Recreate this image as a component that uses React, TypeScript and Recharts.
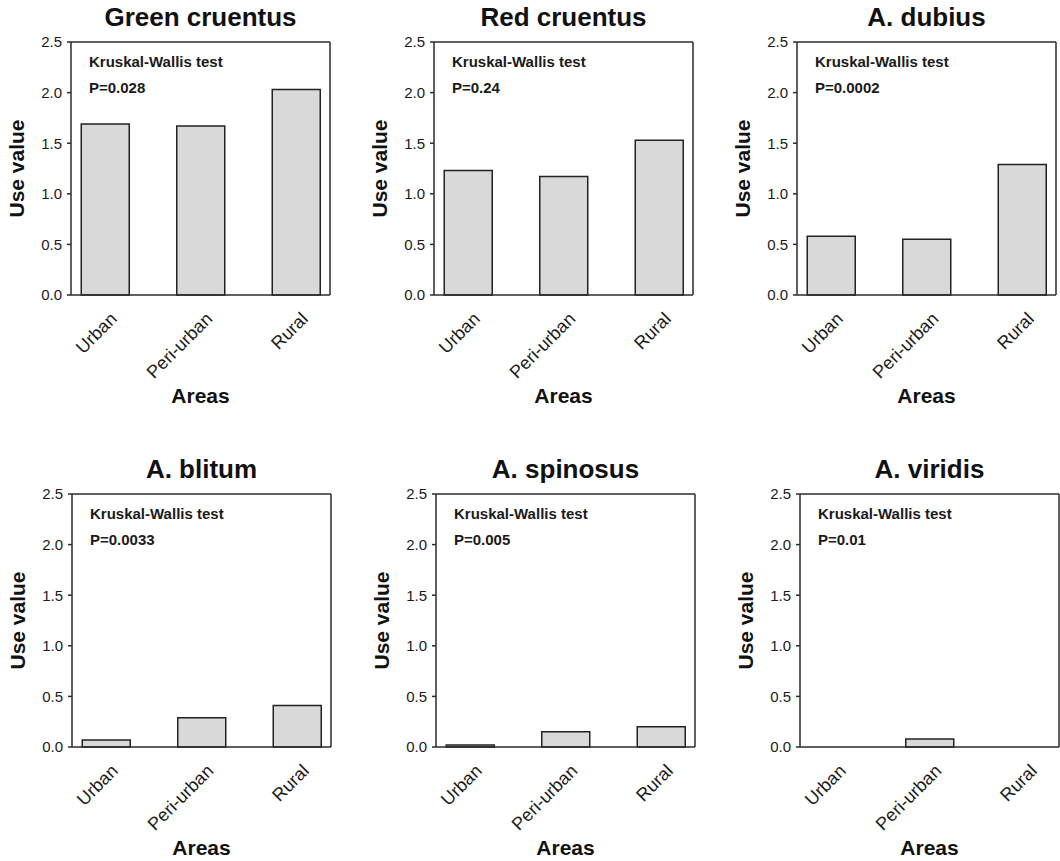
import React from 'react';
import { BarChart, Bar, XAxis, YAxis, ReferenceLine } from 'recharts';

const categories = ['Urban', 'Peri-urban', 'Rural'];
const greenCruentus = [1.69, 1.67, 2.03];
const redCruentus = [1.23, 1.17, 1.53];
const aDubius = [0.58, 0.55, 1.29];
const aBlitum = [0.07, 0.29, 0.41];
const aSpinosus = [0.02, 0.15, 0.2];
const aViridis = [0, 0.08, 0];
const panelTitles = ['Green cruentus', 'Red cruentus', 'A. dubius', 'A. blitum', 'A. spinosus', 'A. viridis'];
const pValues = ['P=0.028', 'P=0.24', 'P=0.0002', 'P=0.0033', 'P=0.005', 'P=0.01'];
const yTicks = [0, 0.5, 1.0, 1.5, 2.0, 2.5];
const testLabel = 'Kruskal-Wallis test';
const yLabel = 'Use value';
const xLabel = 'Areas';

const FONT = 'Arial, "Liberation Sans", Helvetica, sans-serif';
const AXIS = '#2b2b2b';
const CH_W = 332;
const CH_H = 407;
const M_TOP = 42;
const Y_W = 71;
const PLOT_W = 259;
const X_DOMAIN: [number, number] = [-0.356, 2.356];

const XTick = (props: any) => {
  const { x, y, payload } = props;
  const ax = x + 13;
  const ay = y + 17;
  return (
    <text x={ax} y={ay} transform={`rotate(-45, ${ax}, ${ay})`} textAnchor="end"
      fontFamily={FONT} fontSize={18} fill="#1a1a1a">
      {categories[payload.value]}
    </text>
  );
};

const YLabelC = (props: any) => {
  const vb = props.viewBox || { x: 0, y: M_TOP, width: Y_W, height: 253 };
  const cx = vb.x + 16;
  const cy = vb.y + vb.height / 2;
  return (
    <text x={cx} y={cy} transform={`rotate(-90, ${cx}, ${cy})`} textAnchor="middle"
      dominantBaseline="central" fontFamily={FONT} fontWeight="bold" fontSize={21} fill="#111">
      {yLabel}
    </text>
  );
};

const XLabelC = (props: any) => {
  const vb = props.viewBox || { x: Y_W, y: 295, width: PLOT_W, height: 112 };
  return (
    <text x={vb.x + vb.width / 2} y={vb.y + 108} textAnchor="middle"
      fontFamily={FONT} fontWeight="bold" fontSize={21} fill="#111">
      {xLabel}
    </text>
  );
};

type PanelProps = { title: string; values: number[]; p: string; left: number; top: number };

const Panel = ({ title, values, p, left, top }: PanelProps) => {
  const data = categories.map((c, i) => ({ pos: i, name: c, value: values[i] }));
  return (
    <div style={{ position: 'absolute', left, top, width: CH_W, height: CH_H }}>
      <BarChart width={CH_W} height={CH_H} data={data}
        margin={{ top: M_TOP, right: 2, left: 0, bottom: 0 }}>
        <XAxis dataKey="pos" type="number" domain={X_DOMAIN} ticks={[0, 1, 2]}
          allowDataOverflow tick={<XTick />} tickLine={false} height={112}
          axisLine={{ stroke: AXIS, strokeWidth: 1.5 }} label={<XLabelC />} />
        <YAxis domain={[0, 2.5]} ticks={yTicks} width={Y_W} tickSize={4} tickMargin={5}
          tickFormatter={(v: number) => v.toFixed(1)}
          tick={{ fontFamily: FONT, fontSize: 15, fill: '#1a1a1a' }}
          tickLine={{ stroke: AXIS, strokeWidth: 1.5 }}
          axisLine={{ stroke: AXIS, strokeWidth: 1.5 }} label={<YLabelC />} />
        <ReferenceLine y={2.5} stroke={AXIS} strokeWidth={1.5} />
        <ReferenceLine x={X_DOMAIN[1]} stroke={AXIS} strokeWidth={1.5} />
        <Bar dataKey="value" barSize={48} fill="#d9d9d9" stroke="#222" strokeWidth={1.5}
          isAnimationActive={false} />
      </BarChart>
      <svg width={CH_W} height={CH_H} style={{ position: 'absolute', left: 0, top: 0, pointerEvents: 'none' }}>
        <text x={Y_W + PLOT_W / 2} y={26} textAnchor="middle" fontFamily={FONT}
          fontWeight="bold" fontSize={26} fill="#111">{title}</text>
        <text x={Y_W + 18} y={67} fontFamily={FONT} fontWeight="bold" fontSize={15} fill="#1a1a1a">{testLabel}</text>
        <text x={Y_W + 18} y={93} fontFamily={FONT} fontWeight="bold" fontSize={15} fill="#1a1a1a">{p}</text>
      </svg>
    </div>
  );
};

const series = [greenCruentus, redCruentus, aDubius, aBlitum, aSpinosus, aViridis];
const lefts = [0, 363, 726, 1, 365, 729];
const tops = [0, 0, 0, 452, 452, 452];

export default function App() {
  return (
    <div style={{ position: 'absolute', left: 0, top: 0, width: 1060, height: 861, overflow: 'hidden', background: '#fff' }}>
      {series.map((vals, i) => (
        <Panel key={i} title={panelTitles[i]} values={vals} p={pValues[i]} left={lefts[i]} top={tops[i]} />
      ))}
    </div>
  );
}
